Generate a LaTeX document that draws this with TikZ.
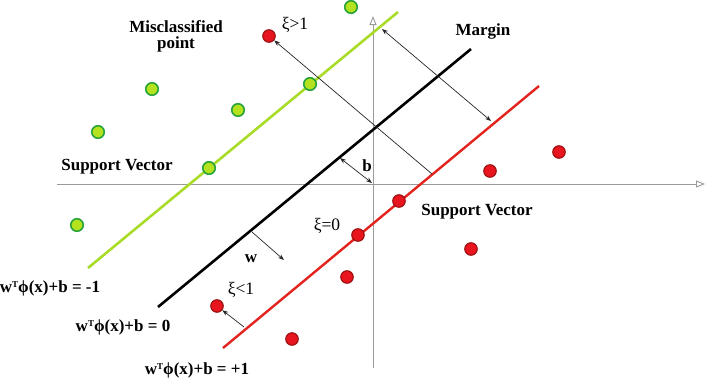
\documentclass[tikz,border=0pt]{standalone}
\usepackage{fontspec}
\setmainfont{Liberation Serif}
\usetikzlibrary{arrows.meta}
\definecolor{lgreen}{HTML}{A8DC28}
\definecolor{dgreen}{HTML}{2AA43A}
\definecolor{gfill}{HTML}{B4E21E}
\definecolor{lred}{HTML}{E2231E}
\definecolor{rfill}{HTML}{E8141E}
\definecolor{rdark}{HTML}{9A1010}
\definecolor{axisgray}{HTML}{9A9A9A}
\newcommand{\wphi}{w\raisebox{0.62ex}{\fontsize{9}{9}\selectfont T}ϕ(x)+b}
\begin{document}
\begin{tikzpicture}[x=1pt,y=-1pt,
  axis/.style={draw=axisgray,line width=0.9pt,-{Triangle[open,length=9pt,width=7pt]}},
  gline/.style={draw=lgreen,line width=2.6pt},
  bline/.style={draw=black,line width=2.6pt},
  rline/.style={draw=lred,line width=2.4pt},
  gdot/.style={circle,draw=dgreen,fill=gfill,line width=1.6pt,minimum size=12.5pt,inner sep=0pt},
  rdot/.style={circle,draw=rdark,fill=rfill,line width=1.1pt,minimum size=12.5pt,inner sep=0pt},
  thinarr/.style={draw=black!85,line width=0.7pt,-{Stealth[length=6pt,width=4.5pt]}},
  dblarr/.style={draw=black!85,line width=0.7pt,{Stealth[length=6pt,width=4.5pt]}-{Stealth[length=6pt,width=4.5pt]}},
  lbl/.style={font=\fontsize{17}{16}\selectfont\bfseries,inner sep=0pt,align=center},
  xlbl/.style={font=\fontsize{17.5}{16}\selectfont,inner sep=0pt}
]
\useasboundingbox (0,0) rectangle (709,378);
% axes
\coordinate (xa0) at (57,184); \coordinate (xa1) at (705,184);
\coordinate (ya0) at (373,368); \coordinate (ya1) at (373,16);
\draw[axis] (xa0) -- (xa1);
\draw[axis] (ya0) -- (ya1);
% hyperplanes
\coordinate (g0) at (88,268); \coordinate (g1) at (398,12);
\coordinate (k0) at (158,307); \coordinate (k1) at (471,49);
\coordinate (r0) at (223,348); \coordinate (r1) at (539,86);
\draw[gline] (g0) -- (g1);
\draw[bline] (k0) -- (k1);
\draw[rline] (r0) -- (r1);
% green points
\node[gdot] (G1) at (351,7) {};
\node[gdot] (G2) at (152,89) {};
\node[gdot] (G3) at (238,110) {};
\node[gdot] (G4) at (310,84) {};
\node[gdot] (G5) at (98,132) {};
\node[gdot] (G6) at (209,168) {};
\node[gdot] (G7) at (77,225) {};
% red points
\node[rdot] (R1) at (269,36) {};
\node[rdot] (R2) at (559,152) {};
\node[rdot] (R3) at (490,171) {};
\node[rdot] (R4) at (399,201) {};
\node[rdot] (R5) at (358,235) {};
\node[rdot] (R6) at (471,249) {};
\node[rdot] (R7) at (347,277) {};
\node[rdot] (R8) at (217,306) {};
\node[rdot] (R9) at (292,339) {};
% arrows
\coordinate (mis0) at (432,174);
\draw[thinarr] (mis0) -- (R1);
\coordinate (mg0) at (382,29); \coordinate (mg1) at (491,121);
\draw[dblarr] (mg0) -- (mg1);
\coordinate (b0) at (340,158); \coordinate (b1) at (372,183);
\draw[dblarr] (b0) -- (b1);
\coordinate (w0) at (252,232); \coordinate (w1) at (284,260);
\draw[thinarr] (w0) -- (w1);
\coordinate (s0) at (244,327);
\draw[thinarr] (s0) -- (R8);
% labels
\node[lbl] (tmis) at (176,36) {Misclassified\\point};
\node[xlbl] (tx1) at (295,25) {ξ>1};
\node[lbl] (tmar) at (483,31) {Margin};
\node[lbl] (tsv1) at (117,167) {Support Vector};
\node[lbl] (tsv2) at (477,212) {Support Vector};
\node[xlbl] (tx0) at (327,226) {ξ=0};
\node[lbl] (tb) at (367,166) {b};
\node[lbl] (tw) at (251,259) {w};
\node[xlbl] (tx2) at (241,290) {ξ<1};
\node[lbl] (e1) at (50,288) {\wphi{} = -1};
\node[lbl] (e0) at (123,327) {\wphi{} = 0};
\node[lbl] (e2) at (197,370) {\wphi{} = +1};
\end{tikzpicture}
\end{document}
